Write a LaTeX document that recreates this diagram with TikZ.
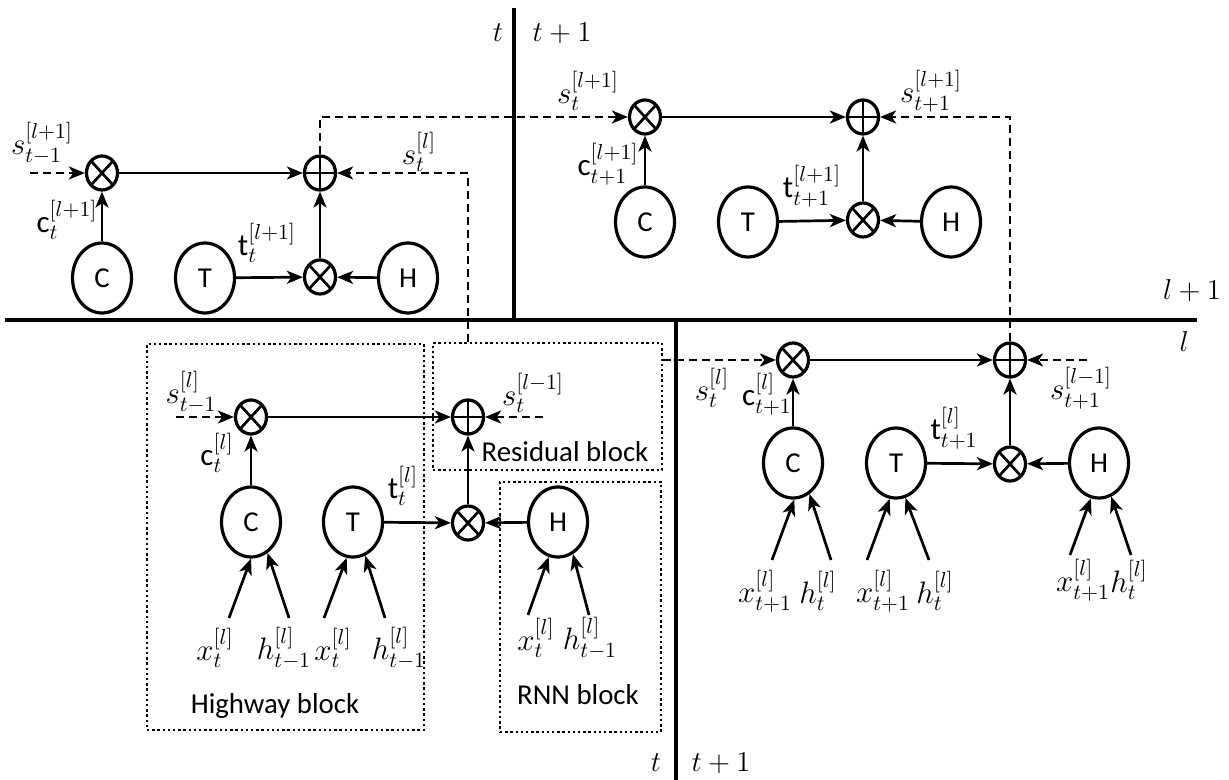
\RequirePackage{fix-cm}
\documentclass[tikz,border=0pt]{standalone}
\usepackage{amsmath}
\usepackage{fontspec}
\setmainfont{Carlito}
\usetikzlibrary{arrows.meta,shapes.geometric,fit}

\begin{document}
\begin{tikzpicture}[x=0.5pt,y=-0.5pt,
  font=\fontsize{14.4}{17}\selectfont,
  line width=1.35pt,
  >={Stealth[length=8pt,width=6.5pt,inset=2.2pt]},
  unit/.style={ellipse,draw,line width=1.6pt,minimum width=29.5pt,minimum height=35pt,inner sep=0pt},
  mul/.style={ellipse,draw,line width=1.6pt,minimum width=15.5pt,minimum height=17pt,inner sep=0pt,
    path picture={\draw[line width=1.35pt] (path picture bounding box.north west) -- (path picture bounding box.south east)
      (path picture bounding box.north east) -- (path picture bounding box.south west);}},
  add/.style={ellipse,draw,line width=1.6pt,minimum width=15.5pt,minimum height=17pt,inner sep=0pt,
    path picture={\draw[line width=1.35pt] (path picture bounding box.north) -- (path picture bounding box.south)
      (path picture bounding box.west) -- (path picture bounding box.east);}},
  lbl/.style={font=\fontsize{15.5}{18}\selectfont,inner sep=0.5pt},
  state/.style={dash pattern=on 4pt off 2.5pt,->},
  blockbox/.style={draw,line width=1.3pt,dash pattern=on 1.2pt off 1.4pt,inner sep=0pt},
  axis/.style={line width=2pt}]

\useasboundingbox (0,0) rectangle (1229,780);

\draw[axis] (514,8) -- (514,320);
\draw[axis] (5,320) -- (1197,320);
\draw[axis] (676,320) -- (676,780);
\node (tUp) at (498,33) {$t$};
\node (tnUp) at (562,33) {$t+1$};
\node (tLow) at (656,763) {$t$};
\node (tnLow) at (721,763) {$t+1$};
\node (lnRight) at (1192,291) {$l+1$};
\node (lRight) at (1184,341) {$l$};

\node (hwyblk) [blockbox,fit={(147,344) (424,730)}] {};
\node (resblk) [blockbox,fit={(433,343) (662,470)}] {};
\node (rnnblk) [blockbox,fit={(500,482) (661,732)}] {};
\node (hwytxt) at (275,706) {Highway block};
\node (restxt) at (565,452) {Residual block};
\node (rnntxt) at (578,695) {RNN block};

\node (xA) at (102,173) [mul] {};
\node (pA) at (320,173) [add] {};
\node (cA) at (102,278) [unit] {C};
\node (tA) at (205,278) [unit] {T};
\node (yA) at (320,277) [mul] {};
\node (hA) at (408,278) [unit] {H};
\coordinate (sA) at (30,173);
\draw[state] (sA) -- (xA);
\draw[->] (cA) -- (xA);
\draw[->] (xA) -- (pA);
\draw[->] (tA) -- (yA);
\draw[->] (hA) -- (yA);
\draw[->] (yA) -- (pA);
\node (lsA) at (42,143) [lbl] {$s_{t-1}^{[l+1]}$};
\node (lcA) at (67,220) [lbl] {$\text{c}_t^{[l+1]}$};
\node (ltA) at (267,243) [lbl] {$\text{t}_t^{[l+1]}$};
\node (lrA) at (419,152) [lbl] {$s_t^{[l]}$};

\node (xB) at (645,117) [mul] {};
\node (pB) at (863,117) [add] {};
\node (cB) at (645,222) [unit] {C};
\node (tB) at (748,222) [unit] {T};
\node (yB) at (863,220) [mul] {};
\node (hB) at (951,222) [unit] {H};
\draw[->] (cB) -- (xB);
\draw[->] (xB) -- (pB);
\draw[->] (tB) -- (yB);
\draw[->] (hB) -- (yB);
\draw[->] (yB) -- (pB);
\node (lsB) at (588,91) [lbl] {$s_t^{[l+1]}$};
\node (lcB) at (608,164) [lbl] {$\text{c}_{t+1}^{[l+1]}$};
\node (ltB) at (812,186) [lbl] {$\text{t}_{t+1}^{[l+1]}$};
\node (lrB) at (931,91) [lbl] {$s_{t+1}^{[l+1]}$};

\node (xC) at (251,417) [mul] {};
\node (pC) at (468,417) [add] {};
\node (cC) at (251,522) [unit] {C};
\node (tC) at (353,522) [unit] {T};
\node (yC) at (468,523) [mul] {};
\node (hC) at (558,522) [unit] {H};
\coordinate (sC) at (176,417);
\coordinate (rC) at (543,417);
\draw[state] (sC) -- (xC);
\draw[state] (rC) -- (pC);
\draw[->] (cC) -- (xC);
\draw[->] (xC) -- (pC);
\draw[->] (tC) -- (yC);
\draw[->] (hC) -- (yC);
\draw[->] (yC) -- (pC);
\node (lsC) at (191,392) [lbl] {$s_{t-1}^{[l]}$};
\node (lcC) at (217,453) [lbl] {$\text{c}_t^{[l]}$};
\node (ltC) at (403,486) [lbl] {$\text{t}_t^{[l]}$};
\node (lrC) at (533,393) [lbl] {$s_t^{[l-1]}$};
\coordinate (inC1) at (229,618);
\coordinate (inC2) at (289,618);
\coordinate (inC3) at (324,618);
\coordinate (inC4) at (385,618);
\coordinate (inC5) at (528,615);
\coordinate (inC6) at (589,615);
\draw[->] (inC1) -- (cC.-90);
\draw[->] (inC2) -- (cC.-62);
\draw[->] (inC3) -- (tC.-100);
\draw[->] (inC4) -- (tC.-70);
\draw[->] (inC5) -- (hC.-105);
\draw[->] (inC6) -- (hC.-65);
\node (lxC1) at (215,648) [lbl] {$x_t^{[l]}$};
\node (lhC1) at (284,648) [lbl] {$h_{t-1}^{[l]}$};
\node (lxC2) at (333,648) [lbl] {$x_t^{[l]}$};
\node (lhC2) at (399,648) [lbl] {$h_{t-1}^{[l]}$};
\node (lxC3) at (536,638) [lbl] {$x_t^{[l]}$};
\node (lhC3) at (590,638) [lbl] {$h_{t-1}^{[l]}$};

\node (xD) at (793,360) [mul] {};
\node (pD) at (1010,360) [add] {};
\node (cD) at (793,463) [unit] {C};
\node (tD) at (896,463) [unit] {T};
\node (yD) at (1010,464) [mul] {};
\node (hD) at (1099,463) [unit] {H};
\coordinate (rD) at (1087,360);
\draw[state] (rD) -- (pD);
\draw[->] (cD) -- (xD);
\draw[->] (xD) -- (pD);
\draw[->] (tD) -- (yD);
\draw[->] (hD) -- (yD);
\draw[->] (yD) -- (pD);
\node (lsD) at (712,388) [lbl] {$s_t^{[l]}$};
\node (lcD) at (767,394) [lbl] {$\text{c}_{t+1}^{[l]}$};
\node (ltD) at (954,428) [lbl] {$\text{t}_{t+1}^{[l]}$};
\node (lrD) at (1081,388) [lbl] {$s_{t+1}^{[l-1]}$};
\coordinate (inD1) at (772,560);
\coordinate (inD2) at (831,560);
\coordinate (inD3) at (867,560);
\coordinate (inD4) at (929,560);
\coordinate (inD5) at (1070,555);
\coordinate (inD6) at (1131,555);
\draw[->] (inD1) -- (cD.-88);
\draw[->] (inD2) -- (cD.-62);
\draw[->] (inD3) -- (tD.-100);
\draw[->] (inD4) -- (tD.-75);
\draw[->] (inD5) -- (hD.-103);
\draw[->] (inD6) -- (hD.-70);
\node (lxD1) at (765,591) [lbl] {$x_{t+1}^{[l]}$};
\node (lhD1) at (818,591) [lbl] {$h_t^{[l]}$};
\node (lxD2) at (883,591) [lbl] {$x_{t+1}^{[l]}$};
\node (lhD2) at (935,591) [lbl] {$h_t^{[l]}$};
\node (lxD3) at (1083,580) [lbl] {$x_{t+1}^{[l]}$};
\node (lhD3) at (1129,580) [lbl] {$h_t^{[l]}$};

\draw[state] (pC |- resblk.north) |- (pA);
\draw[state] (pA) |- (xB);
\draw[state] (pD) |- (pB);
\draw[state] (resblk.east |- xD) -- (xD);
\end{tikzpicture}
\end{document}
